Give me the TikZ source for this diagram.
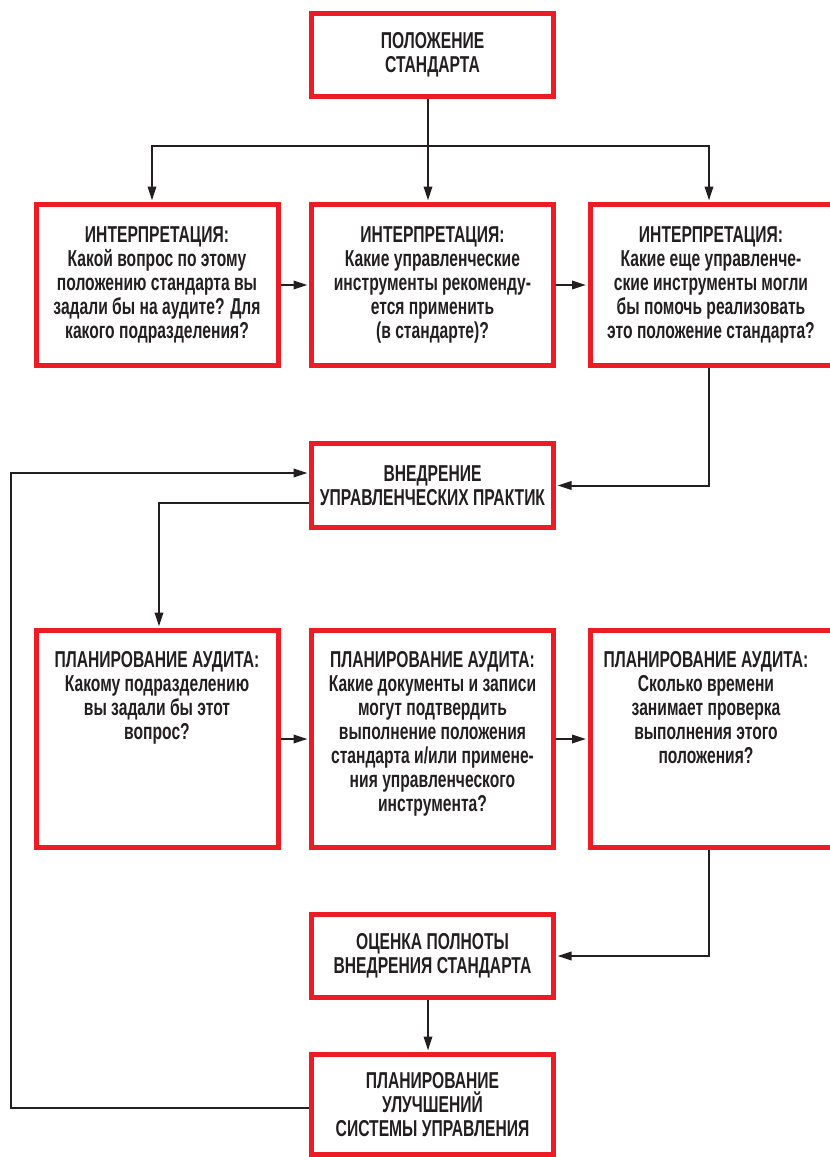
\documentclass[tikz,border=0pt]{standalone}
\usepackage{fontspec}
\setmainfont{Liberation Sans}[FakeStretch=0.68]
\usetikzlibrary{arrows.meta}
\definecolor{boxred}{HTML}{ED1C24}
\definecolor{ink}{HTML}{231F20}
\tikzset{
  box/.style={draw=boxred, line width=5pt, minimum width=242pt, inner sep=0pt,
    text=ink, align=center, font=\bfseries\fontsize{23}{24}\selectfont},
  txt/.style={inner sep=0pt, text=ink, align=center, anchor=north,
    font=\bfseries\fontsize{23}{24}\selectfont},
  line/.style={draw=ink, line width=2pt},
  arr/.style={line, -{Triangle[length=14pt,width=8.5pt]}, shorten >=1.5pt}
}
\begin{document}
\begin{tikzpicture}[x=1pt,y=-1pt]
\useasboundingbox (0,0) rectangle (830,1157);
% boxes
\node[box, minimum height=83pt]  (top) at (432.5,55) {ПОЛОЖЕНИЕ\\СТАНДАРТА};
\node[box, minimum height=161pt] (i1) at (157,285) {};
\node[box, minimum height=161pt] (i2) at (432.5,285) {};
\node[box, minimum height=161pt] (i3) at (711,285) {};
\node[box, minimum height=84pt]  (vn) at (432.5,485.5) {ВНЕДРЕНИЕ\\УПРАВЛЕНЧЕСКИХ ПРАКТИК};
\node[box, minimum height=217pt] (p1) at (157,739) {};
\node[box, minimum height=217pt] (p2) at (432.5,739) {};
\node[box, minimum height=217pt] (p3) at (711,739) {};
\node[box, minimum height=83pt]  (oc) at (432.5,956) {ОЦЕНКА ПОЛНОТЫ\\ВНЕДРЕНИЯ СТАНДАРТА};
\node[box, minimum height=100pt] (pu) at (432.5,1104.5) {ПЛАНИРОВАНИЕ\\УЛУЧШЕНИЙ\\СИСТЕМЫ УПРАВЛЕНИЯ};
% texts of top-aligned boxes
\node[txt] (i1t) at ([yshift=-24.5pt]i1.north) {ИНТЕРПРЕТАЦИЯ:\\Какой вопрос по этому\\положению стандарта вы\\задали бы на аудите? Для\\какого подразделения?};
\node[txt] (i2t) at ([yshift=-24.5pt]i2.north) {ИНТЕРПРЕТАЦИЯ:\\Какие управленческие\\инструменты рекоменду-\\ется применить\\(в стандарте)?};
\node[txt] (i3t) at ([yshift=-24.5pt]i3.north) {ИНТЕРПРЕТАЦИЯ:\\Какие еще управленче-\\ские инструменты могли\\бы помочь реализовать\\это положение стандарта?};
\node[txt] (p1t) at ([yshift=-23.5pt]p1.north) {ПЛАНИРОВАНИЕ АУДИТА:\\Какому подразделению\\вы задали бы этот\\вопрос?};
\node[txt] (p2t) at ([yshift=-23.5pt]p2.north) {ПЛАНИРОВАНИЕ АУДИТА:\\Какие документы и записи\\могут подтвердить\\выполнение положения\\стандарта и/или примене-\\ния управленческого\\инструмента?};
\node[txt] (p3t) at ([yshift=-23.5pt,xshift=-5pt]p3.north) {ПЛАНИРОВАНИЕ АУДИТА:\\Сколько времени\\занимает проверка\\выполнения этого\\положения?};
% helper coordinates
\coordinate (cm) at (428,0);
\coordinate (cl) at (152,0);
\coordinate (cl2) at (159,0);
\coordinate (cr) at (709,0);
\coordinate (fbx) at (11,0);
\coordinate (bar) at (0,146);
\coordinate (vnin) at (0,473);
\coordinate (vnout) at (0,503);
\coordinate (puout) at (0,1108);
% connectors
\draw[arr] (top.south -| cm) -- (i2.north -| cm);
\draw[arr] (bar -| cm) -| (i1.north -| cl);
\draw[arr] (bar -| cm) -| (i3.north -| cr);
\draw[arr] (i1.east) -- (i2.west);
\draw[arr] (i2.east) -- (i3.west);
\draw[arr] (i3.south -| cr) |- (vn.east);
\draw[arr] (vn.west |- vnout) -| (p1.north -| cl2);
\draw[arr] (p1.east) -- (p2.west);
\draw[arr] (p2.east) -- (p3.west);
\draw[arr] (p3.south -| cr) |- (oc.east);
\draw[arr] (oc.south -| cm) -- (pu.north -| cm);
\draw[arr] (pu.west |- puout) -| (fbx |- vnin) -- (vn.west |- vnin);
\end{tikzpicture}
\end{document}
